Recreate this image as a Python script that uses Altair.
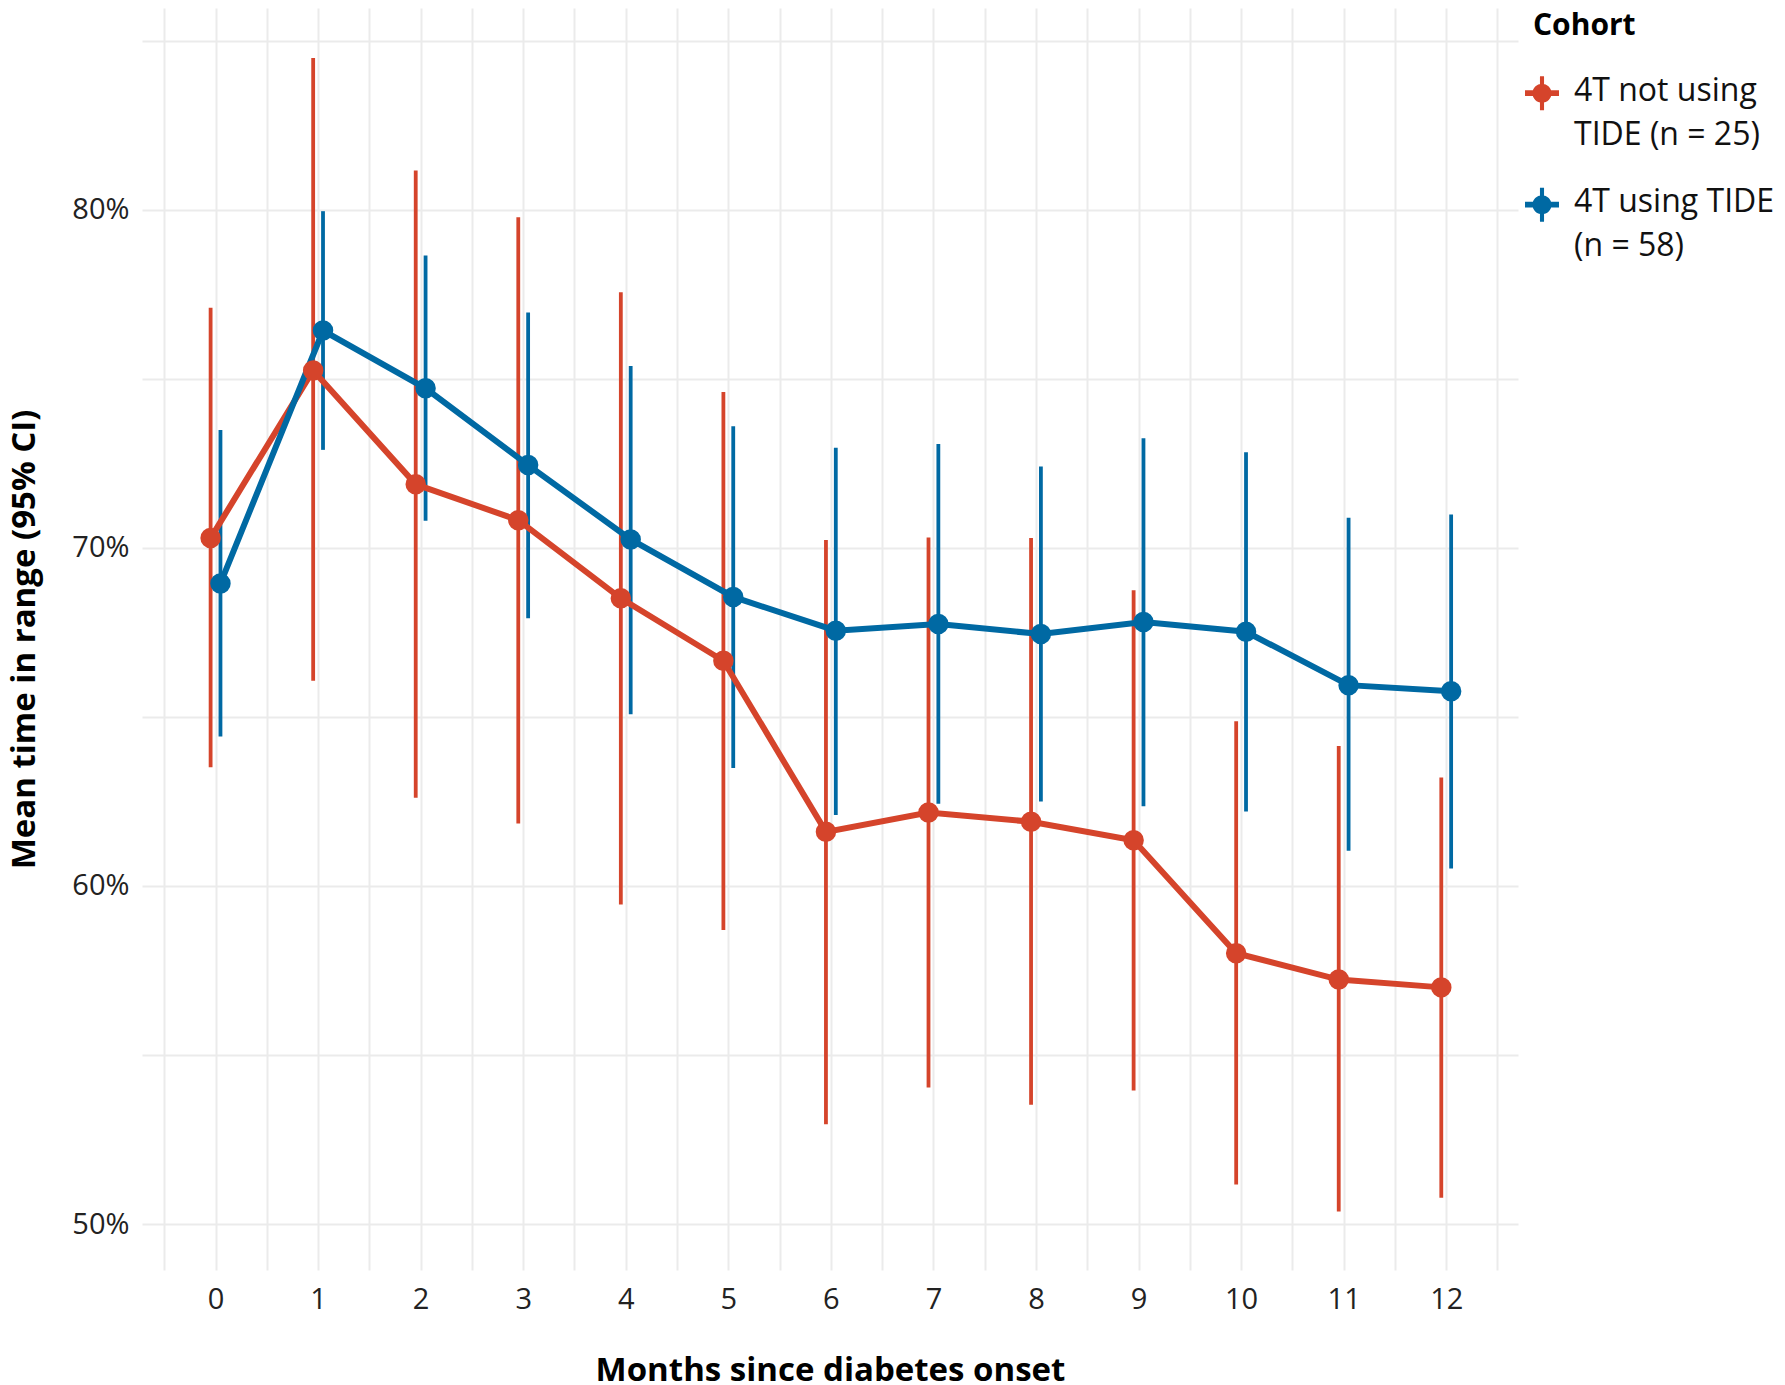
import altair as alt
import pandas as pd

# ---------------- data ----------------
months = list(range(13))
cohorts = ["4T not using\nTIDE (n = 25)", "4T using TIDE\n(n = 58)"]
colors = ["#D5442B", "#0069A3"]

not_tide_mean = [70.29, 75.25, 71.88, 70.82, 68.51, 66.66, 61.60, 62.17, 61.90, 61.35, 58.01, 57.23, 57.00]
not_tide_low = [63.51, 66.07, 62.61, 61.85, 59.45, 58.70, 52.95, 54.04, 53.53, 53.95, 51.17, 50.37, 50.78]
not_tide_high = [77.10, 84.49, 81.16, 79.78, 77.56, 74.61, 70.23, 70.31, 70.29, 68.75, 64.87, 64.14, 63.21]

tide_mean = [68.95, 76.43, 74.72, 72.45, 70.25, 68.55, 67.55, 67.75, 67.45, 67.81, 67.52, 65.94, 65.76]
tide_low = [64.42, 72.90, 70.80, 67.92, 65.08, 63.49, 62.10, 62.43, 62.50, 62.36, 62.20, 61.04, 60.52]
tide_high = [73.49, 79.96, 78.65, 76.96, 75.38, 73.60, 72.96, 73.07, 72.41, 73.24, 72.83, 70.89, 70.99]

x_grid_values = [i / 2 for i in range(-1, 26)]   # -0.5 ... 12.5
y_grid_values = [50, 55, 60, 65, 70, 75, 80, 85]

rows = []
for g, (c, mu, lo, hi) in enumerate([
    (cohorts[0], not_tide_mean, not_tide_low, not_tide_high),
    (cohorts[1], tide_mean, tide_low, tide_high),
]):
    for m, a, b, d in zip(months, mu, lo, hi):
        rows.append({"month": m, "grp": g, "cohort": c, "mean": a, "lower": b, "upper": d})
df = pd.DataFrame(rows)

FONT = "Open Sans"

x_scale = alt.Scale(domain=[-0.717, 12.70], nice=False, zero=False)
y_scale = alt.Scale(domain=[48.64, 85.97], nice=False, zero=False)

x_axis = alt.Axis(
    values=x_grid_values,
    labelExpr="datum.value == floor(datum.value) ? format(datum.value, 'd') : ''",
    title="Months since diabetes onset",
    grid=True, gridColor="#EBEBEB", gridWidth=2,
    domain=False, ticks=False, labelOverlap=False, labelFlush=False,
    labelPadding=15.5, labelFont=FONT, labelFontSize=29, labelColor="#222222",
    titleFont=FONT, titleFontSize=33, titleFontWeight="bold", titleColor="#000000",
    titlePadding=40,
)
y_axis = alt.Axis(
    values=y_grid_values,
    labelExpr="datum.value % 10 == 0 ? format(datum.value, 'd') + '%' : ''",
    title="Mean time in range (95% CI)",
    grid=True, gridColor="#EBEBEB", gridWidth=2,
    domain=False, ticks=False, labelOverlap=False, labelFlush=False,
    labelPadding=13, labelFont=FONT, labelFontSize=29, labelColor="#222222",
    titleFont=FONT, titleFontSize=33, titleFontWeight="bold", titleColor="#000000",
    titlePadding=30,
)

# legend symbol: horizontal line + vertical error bar + dot (shifted up a little)
sym_path = (
    "M-1,-0.6H1V-0.26H-1Z"
    "M-0.12,-1.43H0.12V0.57H-0.12Z"
    "M0.56,-0.43A0.56,0.56,0,1,1,-0.56,-0.43A0.56,0.56,0,1,1,0.56,-0.43Z"
)

legend = alt.Legend(
    title="Cohort", orient="none", legendX=1391, legendY=3,
    symbolType=sym_path, symbolSize=1156, symbolStrokeWidth=0, symbolOffset=-8,
    labelExpr="split(datum.label, '\\n')", labelBaseline="alphabetic",
    labelFont=FONT, labelFontSize=32, labelColor="#111111", labelLimit=400,
    labelOffset=15, rowPadding=35.5, padding=0,
    titleFont=FONT, titleFontSize=30, titleFontWeight="bold", titleColor="#000000",
    titlePadding=42.5,
)

color = alt.Color("cohort:N", scale=alt.Scale(domain=cohorts, range=colors), legend=legend)

base = alt.Chart(df).transform_calculate(
    xd="datum.month + (datum.grp - 0.5) * 0.096"
)

bars = base.mark_rule(strokeWidth=3.8).encode(
    x=alt.X("xd:Q", scale=x_scale, axis=x_axis),
    y=alt.Y("lower:Q", scale=y_scale, axis=y_axis),
    y2="upper:Q",
    color=color,
)

lines = base.mark_line(strokeWidth=6).encode(
    x=alt.X("xd:Q", scale=x_scale, axis=x_axis),
    y=alt.Y("mean:Q", scale=y_scale, axis=y_axis),
    color=color,
)

points = base.mark_circle(size=420, opacity=1).encode(
    x=alt.X("xd:Q", scale=x_scale, axis=x_axis),
    y=alt.Y("mean:Q", scale=y_scale, axis=y_axis),
    color=color,
)

chart = alt.layer(bars, lines, points).properties(
    width=1376, height=1262, padding=0, background="white"
).configure(
    style={"guide-label": {"lineHeight": 44}}
).configure_view(stroke=None)

chart.save("out.html", embed_options={"renderer": "svg", "actions": False})
